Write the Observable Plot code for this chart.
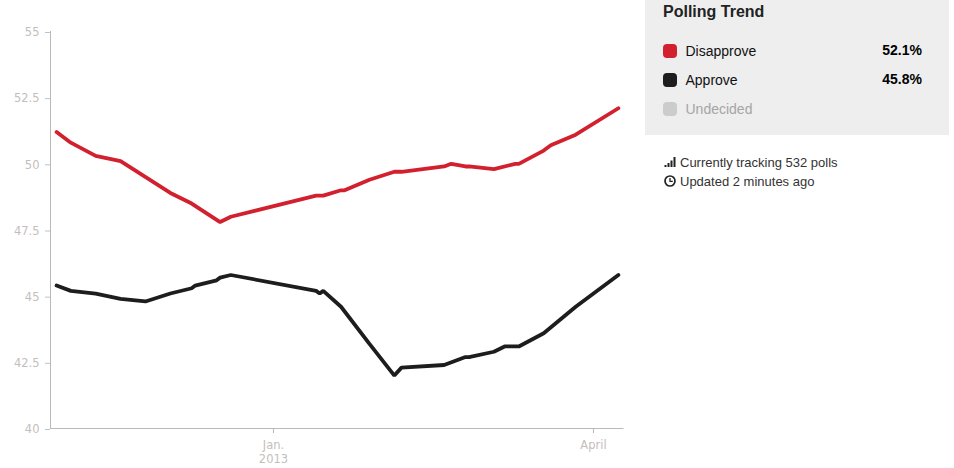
<!DOCTYPE html>
<html>
<head>
<meta charset="utf-8">
<script src="https://cdn.jsdelivr.net/npm/d3@7"></script>
<script src="https://cdn.jsdelivr.net/npm/@observablehq/plot@0.6"></script>
<style>
html,body{margin:0;padding:0;background:#fff;}
#wrap{position:relative;width:954px;height:468px;overflow:hidden;font-family:"Liberation Sans",Arial,sans-serif;}
#chart{position:absolute;left:0;top:0;}
#panel{position:absolute;left:645px;top:0;width:304px;height:135px;background:#eeeeee;}
#panel .t{position:absolute;left:18px;top:2px;font-size:16px;font-weight:bold;color:#222;line-height:20px;}
.sw{position:absolute;left:18px;width:14px;height:14px;border-radius:4px;}
.lb{position:absolute;left:40.5px;font-size:14px;line-height:18px;color:#111;}
.val{position:absolute;right:27px;font-size:14px;font-weight:bold;line-height:18px;color:#000;}
.note{position:absolute;left:680px;font-size:13px;line-height:16px;color:#333;}
.ic{position:absolute;left:664px;}
</style>
</head>
<body>
<div id="wrap">
<div id="chart"></div>
<div id="panel"></div>
<svg class="ic" style="top:156px" width="13" height="12" viewBox="0 0 13 12"><rect x="0.5" y="9" width="2" height="2" fill="#222"/><rect x="3.5" y="7" width="2" height="4" fill="#222"/><rect x="6.5" y="4.5" width="2" height="6.5" fill="#222"/><rect x="9.5" y="1" width="2" height="10" fill="#222"/></svg>
<svg class="ic" style="top:175px" width="13" height="13" viewBox="0 0 13 13"><circle cx="6" cy="6" r="5" fill="none" stroke="#222" stroke-width="1.7"/><path d="M6 3v3.3h2.8" fill="none" stroke="#222" stroke-width="1.3"/></svg>
<div class="note" style="top:155px">Currently tracking 532 polls</div>
<div class="note" style="top:174px">Updated 2 minutes ago</div>
</div>
<script>
const disapproveDates = ["2012-11-01","2012-11-05","2012-11-12","2012-11-19","2012-12-03","2012-12-09","2012-12-17","2012-12-20","2013-01-13","2013-01-15","2013-01-20","2013-01-21","2013-01-28","2013-02-04","2013-02-06","2013-02-18","2013-02-20","2013-02-24","2013-02-25","2013-03-04","2013-03-10","2013-03-11","2013-03-18","2013-03-20","2013-03-27","2013-04-08"];
const disapproveValues = [51.2,50.8,50.3,50.1,48.9,48.5,47.8,48.0,48.8,48.8,49.0,49.0,49.4,49.7,49.7,49.9,50.0,49.9,49.9,49.8,50.0,50.0,50.5,50.7,51.1,52.1];
const approveDates = ["2012-11-01","2012-11-05","2012-11-12","2012-11-19","2012-11-26","2012-12-03","2012-12-09","2012-12-10","2012-12-16","2012-12-17","2012-12-20","2013-01-13","2013-01-14","2013-01-15","2013-01-20","2013-01-28","2013-02-04","2013-02-06","2013-02-18","2013-02-24","2013-02-25","2013-03-04","2013-03-07","2013-03-11","2013-03-18","2013-03-27","2013-04-08"];
const approveValues = [45.4,45.2,45.1,44.9,44.8,45.1,45.3,45.4,45.6,45.7,45.8,45.2,45.1,45.2,44.6,43.2,42.0,42.3,42.4,42.7,42.7,42.9,43.1,43.1,43.6,44.6,45.8];
const yTicks = [40,42.5,45,47.5,50,52.5,55];
const xTicks = ["2013-01-01","2013-04-01"];
const xTickLabels = ["Jan.\n2013","April"];
const legendNames = ["Disapprove","Approve","Undecided"];
const legendColors = ["#d2202f","#1d1d1d","#cccccc"];
const legendValues = ["52.1%","45.8%",""];
const currentTitle = "Polling Trend";

const toRows = (dates, values) => dates.map((d,i)=>({date:new Date(d+"T00:00:00Z"),value:values[i]}));
const xTickDates = xTicks.map(d=>new Date(d+"T00:00:00Z"));
const xStart = new Date("2012-10-30T07:00:00Z"), xEnd = new Date("2013-04-09T14:00:00Z");
const axisColor = "#b9b9b9", textColor = "#c4bebb", axisFont = "DejaVu Sans";

const chart = Plot.plot({
  width: 640, height: 468,
  marginLeft: 50, marginRight: 16.5, marginTop: 31, marginBottom: 40,
  style: {fontFamily: axisFont, fontSize: "11px", background: "transparent", overflow: "visible"},
  x: {type:"utc", domain:[xStart, xEnd]},
  y: {domain:[40,55]},
  marks: [
    Plot.ruleX([xStart], {stroke:axisColor, strokeWidth:1}),
    Plot.ruleY([40], {stroke:axisColor, strokeWidth:1}),
    Plot.axisY({ticks:yTicks, tickFormat:d=>String(d), tickSize:5, tickPadding:6, stroke:"#b8c4d0", fill:textColor, label:null, fontSize:11.5, dy:1}),
    Plot.axisX({ticks:xTickDates, tickFormat:d=>xTickLabels[xTickDates.findIndex(t=>+t===+d)], tickSize:5, tickPadding:6, stroke:axisColor, fill:textColor, label:null, fontSize:11.5, lineHeight:1.2}),
    Plot.lineY(toRows(disapproveDates,disapproveValues),{x:"date",y:"value",stroke:legendColors[0],strokeWidth:3.8,curve:"linear",strokeLinejoin:"miter"}),
    Plot.lineY(toRows(approveDates,approveValues),{x:"date",y:"value",stroke:legendColors[1],strokeWidth:3.8,curve:"linear",strokeLinejoin:"miter"})
  ]
});
document.getElementById("chart").append(chart);

const panel = document.getElementById("panel");
const tops = [44,73,102];
let html = `<div class="t">${currentTitle}</div>`;
legendNames.forEach((n,i)=>{
  html += `<div class="sw" style="top:${tops[i]}px;background:${legendColors[i]}"></div>`;
  html += `<div class="lb" style="top:${tops[i]-2}px;${i==2?'color:#a5a5a5':''}">${n}</div>`;
  if(legendValues[i]) html += `<div class="val" style="top:${tops[i]-3}px">${legendValues[i]}</div>`;
});
panel.innerHTML = html;
</script>
</body>
</html>
